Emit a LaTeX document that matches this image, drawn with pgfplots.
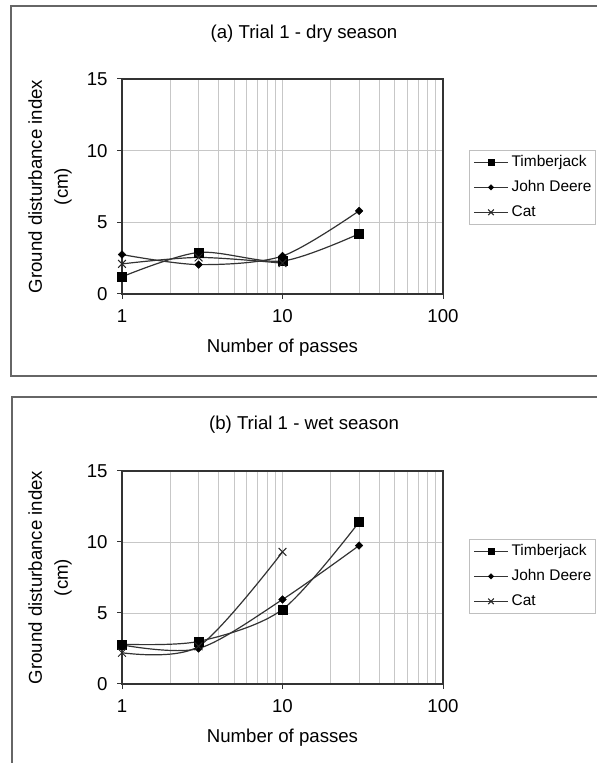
\documentclass[border=0pt]{standalone}
\usepackage{fontspec}
\setmainfont{Liberation Sans}
\usepackage{pgfplots}
\pgfplotsset{compat=1.18}

\newcommand{\mainfont}{\fontsize{18.7}{26}\selectfont}
% settings shared by both panels
\pgfplotsset{
  scale only axis, width=321bp,
  xmin=1, xmax=100, ymin=0, ymax=15,
  ytick={0,5,10,15},
  grid=both,
  major grid style={draw=black!22, line width=0.8bp},
  minor grid style={draw=black!22, line width=0.8bp},
  axis line style={draw=black!80, line width=1.1bp},
  tick align=outside, major tick length=5bp, minor tick length=0pt,
  tick style={draw=black!80, line width=1bp},
  xtick pos=bottom, ytick pos=left,
  /pgf/number format/assume math mode=true,
  tick label style={font=\mainfont},
  xticklabel style={yshift=-7bp},
  yticklabel style={xshift=-6bp},
  label style={font=\mainfont},
  xlabel style={at={(axis description cs:0.5,-0.251)}, anchor=center},
  ylabel style={at={(axis description cs:-0.224,0.5)}, anchor=center, align=center},
  legend cell align=left,
  legend style={draw=black!25, fill=white, line width=0.8bp, anchor=north west,
    font=\fontsize{15.5}{18}\selectfont, inner xsep=4bp, inner ysep=5bp, row sep=11bp,
    nodes={inner sep=0pt, text height=11bp, text depth=3bp}},
  legend image code/.code={
    \draw[mark repeat=2, mark phase=2, #1, every mark/.append style={scale=0.72}]
      plot coordinates {(0bp,0bp) (17bp,0bp) (34bp,0bp)};
    \path (37bp,0bp);
  },
}

\begin{document}
\begin{tikzpicture}
\useasboundingbox (0bp,0bp) rectangle (597bp,763bp);
% panel frames
\draw[draw=black!60, line width=2bp] (11bp,757bp) rectangle (612bp,387bp);
\draw[draw=black!60, line width=2bp] (12bp,366bp) rectangle (612bp,-12bp);
\node[font=\mainfont] at (304bp,729bp) {(a) Trial 1 - dry season};
\node[font=\mainfont] at (304bp,338bp) {(b) Trial 1 - wet season};

% (a) dry season
\begin{axis}[at={(122bp,469bp)}, anchor=south west, height=215bp,
  xmode=log, xtick={1,10,100}, xticklabels={1,10,100},
  xlabel={Number of passes}, ylabel={Ground disturbance index\\(cm)},
  legend style={at={(axis description cs:1.081,0.670)}}]
\addplot[draw=black!80, line width=1.2bp, smooth, mark=square*, mark size=4.5bp,
  mark options={fill=black, draw=black, line width=0.4bp}]
  coordinates {(1,1.2) (3,2.9) (10,2.3) (30,4.2)};
\addplot[draw=black!80, line width=1.2bp, smooth, mark=square*, mark size=2.7bp,
  mark options={rotate=45, fill=black, draw=black, line width=0.4bp}]
  coordinates {(1,2.75) (3,2.05) (10,2.65) (30,5.8)};
\addplot[draw=black!80, line width=1.2bp, smooth, mark=x, mark size=5.5bp,
  mark options={draw=black!85, line width=1bp}]
  coordinates {(1,2.1) (3,2.55) (10,2.15)};
\legend{Timberjack, John Deere, Cat}
\end{axis}

% (b) wet season
\begin{axis}[at={(122bp,79bp)}, anchor=south west, height=213bp,
  xmode=log, xtick={1,10,100}, xticklabels={1,10,100},
  xlabel={Number of passes}, ylabel={Ground disturbance index\\(cm)},
  legend style={at={(axis description cs:1.081,0.681)}}]
\addplot[draw=black!80, line width=1.2bp, smooth, mark=square*, mark size=4.5bp,
  mark options={fill=black, draw=black, line width=0.4bp}]
  coordinates {(1,2.8) (3,3.0) (10,5.25) (30,11.4)};
\addplot[draw=black!80, line width=1.2bp, smooth, mark=square*, mark size=2.7bp,
  mark options={rotate=45, fill=black, draw=black, line width=0.4bp}]
  coordinates {(1,2.75) (3,2.5) (10,5.95) (30,9.75)};
\addplot[draw=black!80, line width=1.2bp, smooth, mark=x, mark size=5.5bp,
  mark options={draw=black!85, line width=1bp}]
  coordinates {(1,2.2) (3,2.65) (10,9.3)};
\legend{Timberjack, John Deere, Cat}
\end{axis}
\end{tikzpicture}
\end{document}
